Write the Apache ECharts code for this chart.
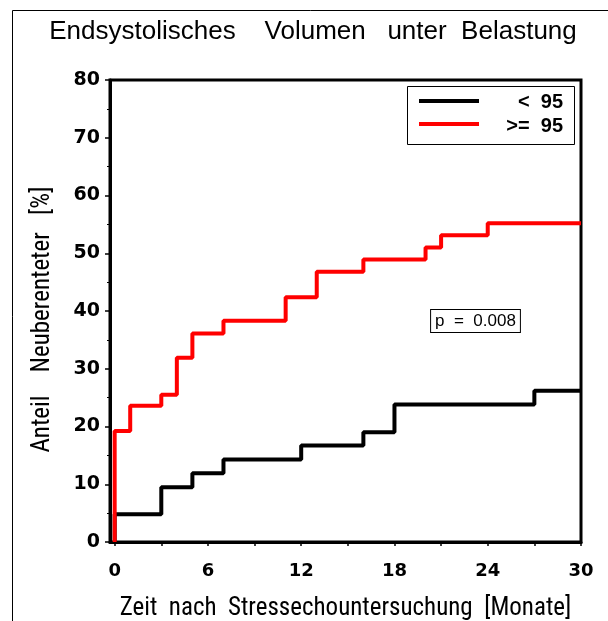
<!DOCTYPE html>
<html>
<head>
<meta charset="utf-8">
<script src="https://cdn.jsdelivr.net/npm/echarts@6/dist/echarts.min.js"></script>
<style>
html,body{margin:0;padding:0;background:#fff;}
#chart{width:608px;height:621px;}
</style>
</head>
<body>
<div id="chart"></div>
<script>
// Data (months, percent)
var monthsBlack = [0, 0, 3, 5, 7, 12, 16, 18, 27, 30];
var valuesBlack = [0, 4.8, 9.5, 11.9, 14.3, 16.7, 19.0, 23.8, 26.2, 26.2];
var monthsRed = [0, 0, 1, 3, 4, 5, 7, 11, 13, 16, 20, 21, 24, 30];
var valuesRed = [0, 19.2, 23.6, 25.5, 31.9, 36.1, 38.3, 42.4, 46.8, 48.9, 51.0, 53.1, 55.2, 55.2];
var xTickValues = [0, 3, 6, 9, 12, 15, 18, 21, 24, 27, 30];
var xLabelValues = [0, 6, 12, 18, 24, 30];
var seriesNames = ['<  95', '>=  95'];
var pText = 'p  =  0.008';
var titleText = 'Endsystolisches    Volumen   unter  Belastung';
var xName = 'Zeit  nach  Stressechountersuchung  [Monate]';
var yName = 'Anteil    Neuberenteter   [%]   ';

function pairs(xs, ys) { return xs.map(function (x, i) { return [x, ys[i]]; }); }

var chart = echarts.init(document.getElementById('chart'), null, {renderer: 'canvas'});
var COND = 'Roboto Condensed';
var TICKF = 'DejaVu Sans';
var option = {
  animation: false,
  backgroundColor: '#fff',
  title: {
    text: titleText,
    left: 308,
    textAlign: 'center',
    top: 14,
    textStyle: {fontFamily: 'Liberation Sans', fontSize: 26, fontWeight: 'normal', color: '#000'}
  },
  grid: {
    left: 110, right: 27, top: 80, bottom: 79,
    containLabel: false, outerBoundsMode: 'none',
    show: true, borderColor: '#000', borderWidth: 3, backgroundColor: 'transparent'
  },
  xAxis: {
    type: 'value', min: -0.3, max: 30,
    name: xName, nameLocation: 'middle', nameGap: 54,
    nameTextStyle: {fontFamily: COND, fontSize: 25, color: '#000'},
    axisLine: {show: true, onZero: false, lineStyle: {color: '#000', width: 3}},
    axisTick: {show: true, customValues: xTickValues, length: 4, lineStyle: {color: '#000', width: 1.5}},
    axisLabel: {customValues: xLabelValues, margin: 20, fontFamily: TICKF, fontSize: 18, fontWeight: 'bold', color: '#000'},
    splitLine: {show: false}
  },
  yAxis: {
    type: 'value', min: 0, max: 80, interval: 10,
    name: yName, nameLocation: 'middle', nameGap: 55,
    nameTextStyle: {fontFamily: COND, fontSize: 25, color: '#000'},
    axisLine: {show: true, onZero: false, lineStyle: {color: '#000', width: 3}},
    axisTick: {show: true, length: 5, lineStyle: {color: '#000', width: 1.5}},
    minorTick: {show: true, splitNumber: 2, length: 3, lineStyle: {color: '#000', width: 1}},
    axisLabel: {margin: 10, fontFamily: TICKF, fontSize: 19, fontWeight: 'bold', color: '#000'},
    splitLine: {show: false}
  },
  series: [
    {name: seriesNames[0], type: 'line', step: 'end', data: pairs(monthsBlack, valuesBlack),
     showSymbol: false, lineStyle: {color: '#000', width: 4}, z: 2},
    {name: seriesNames[1], type: 'line', step: 'end', data: pairs(monthsRed, valuesRed),
     showSymbol: false, lineStyle: {color: '#ff0000', width: 4}, z: 3}
  ],
  graphic: [
    {type: 'rect', shape: {x: 12.5, y: 10.5, width: 700, height: 700}, style: {fill: null, stroke: '#000', lineWidth: 1}, silent: true},
    {type: 'rect', shape: {x: 407.5, y: 86.5, width: 167, height: 58}, style: {fill: '#fff', stroke: '#000', lineWidth: 1}, z: 10},
    {type: 'line', shape: {x1: 419, y1: 101, x2: 479, y2: 101}, style: {stroke: '#000', lineWidth: 4}, z: 11},
    {type: 'line', shape: {x1: 419, y1: 124, x2: 479, y2: 124}, style: {stroke: '#ff0000', lineWidth: 4}, z: 11},
    {type: 'text', x: 563, y: 102, style: {text: seriesNames[0], align: 'right', verticalAlign: 'middle', font: 'bold 20px "Liberation Sans"', fill: '#000'}, z: 11},
    {type: 'text', x: 563, y: 126, style: {text: seriesNames[1], align: 'right', verticalAlign: 'middle', font: 'bold 20px "Liberation Sans"', fill: '#000'}, z: 11},
    {type: 'text', x: 475.5, y: 321, style: {text: pText, align: 'center', verticalAlign: 'middle', font: '17px "Liberation Sans"', fill: '#000', backgroundColor: '#fff', borderColor: '#000', borderWidth: 1, padding: [3, 4, 2, 4]}, z: 11}
  ]
};
chart.setOption(option);
</script>
</body>
</html>
